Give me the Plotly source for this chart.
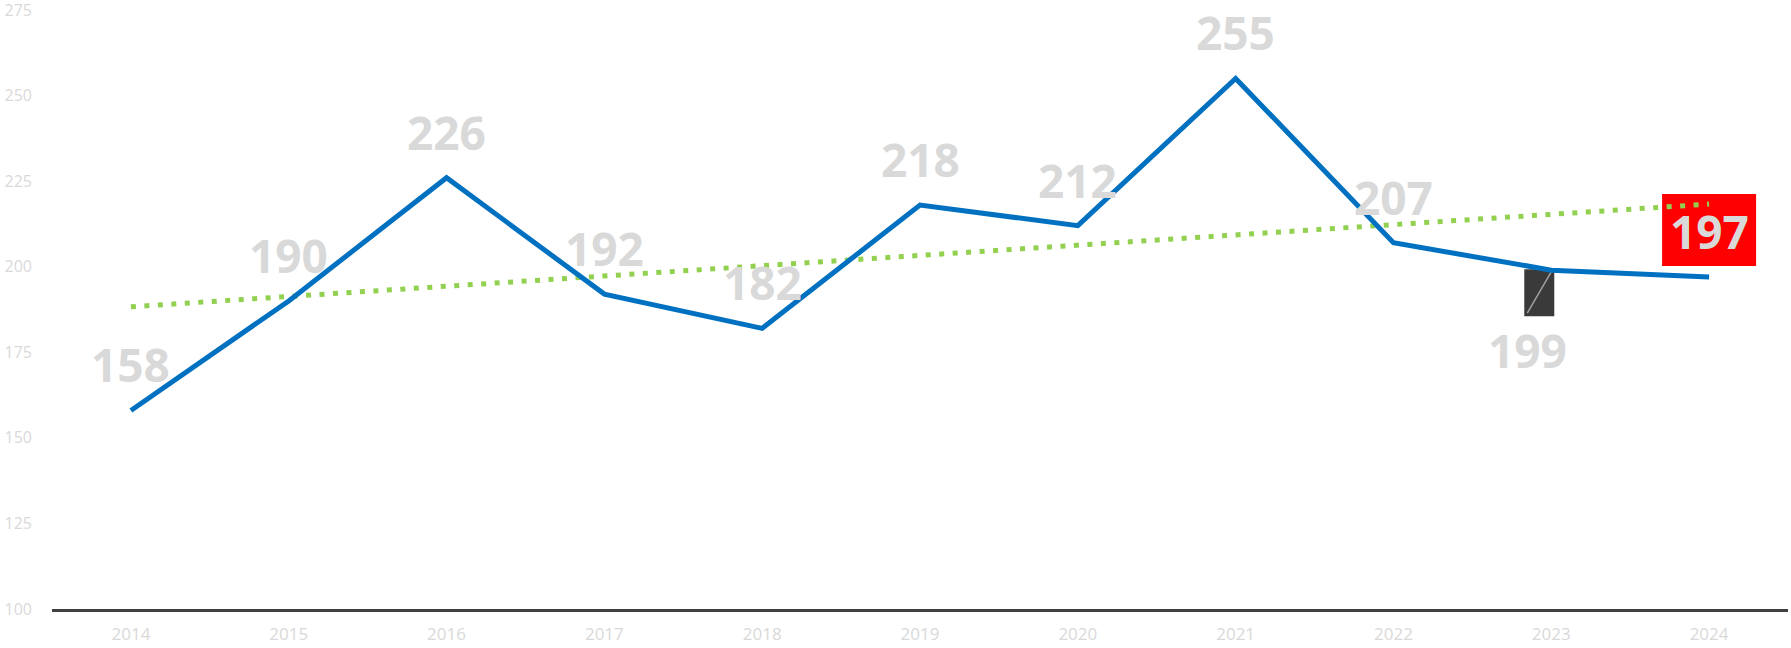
import plotly.graph_objects as go

years = ["2014", "2015", "2016", "2017", "2018", "2019", "2020", "2021", "2022", "2023", "2024"]
values = [158, 190, 226, 192, 182, 218, 212, 255, 207, 199, 197]
trend_x = ["2014", "2024"]
trend_y = [188.3, 218.3]
y_ticks = [100, 125, 150, 175, 200, 225, 250, 275]

LABEL_COLOR = "#D9D9D9"

fig = go.Figure()

fig.add_trace(go.Scatter(
    x=trend_x, y=trend_y, mode="lines",
    line=dict(color="#92D050", width=5, dash="5px,8.5px"),
    hoverinfo="skip", showlegend=False,
))
fig.add_trace(go.Scatter(
    x=years, y=values, mode="lines",
    line=dict(color="#0070C0", width=5),
    showlegend=False,
))

# data labels
for i, (yr, v) in enumerate(zip(years, values)):
    kw = dict(x=i, y=v, text="<b>%d</b>" % v, showarrow=False,
              font=dict(family="Open Sans", size=46, color=LABEL_COLOR),
              xanchor="center", yanchor="middle", yshift=46)
    if yr == "2023":
        kw.update(yshift=-80, xshift=-24)
    fig.add_annotation(**kw)

# red highlight box behind the last label (below traces, like the reference)
last = len(years) - 1
fig.add_shape(type="rect", xref="x", yref="y", xsizemode="pixel", ysizemode="pixel",
              xanchor=last, yanchor=values[last], x0=-47, x1=47, y0=11, y1=83,
              fillcolor="#FF0000", line=dict(width=0), layer="below")

# callout artefact near 2023
idx = years.index("2023")
fig.add_shape(type="rect", xref="x", yref="y", xsizemode="pixel", ysizemode="pixel",
              xanchor=idx, yanchor=values[idx], x0=-27, x1=3, y0=1, y1=-46,
              fillcolor="#3A3A3A", line=dict(width=0), layer="below")
fig.add_shape(type="line", xref="x", yref="y", xsizemode="pixel", ysizemode="pixel",
              xanchor=idx, yanchor=values[idx], x0=-24, x1=1, y0=-43, y1=0,
              line=dict(color="#A0A0A0", width=1.5), layer="below")

fig.update_layout(
    width=1791, height=648,
    margin=dict(l=52, r=3, t=10, b=39),
    paper_bgcolor="white", plot_bgcolor="white",
    showlegend=False,
)
fig.update_xaxes(
    type="category", categoryorder="array", categoryarray=years,
    range=[-0.5, len(years) - 0.5],
    showgrid=False, zeroline=False,
    showline=True, linecolor="#404040", linewidth=3,
    ticks="", ticklabelstandoff=8,
    tickfont=dict(family="Liberation Sans Narrow, Open Sans", size=17, color=LABEL_COLOR),
)
fig.update_yaxes(
    range=[100, 275], tickvals=y_ticks, ticktext=[str(t) for t in y_ticks],
    tickmode="array", showgrid=False, zeroline=False,
    showline=False, ticks="", ticklabelstandoff=19, automargin=False,
    ticklabeloverflow="allow",
    tickfont=dict(family="Open Sans", size=16, color=LABEL_COLOR),
)

fig.write_html("out.html", config={"displayModeBar": False},
               post_script="document.body.style.margin='0';")
